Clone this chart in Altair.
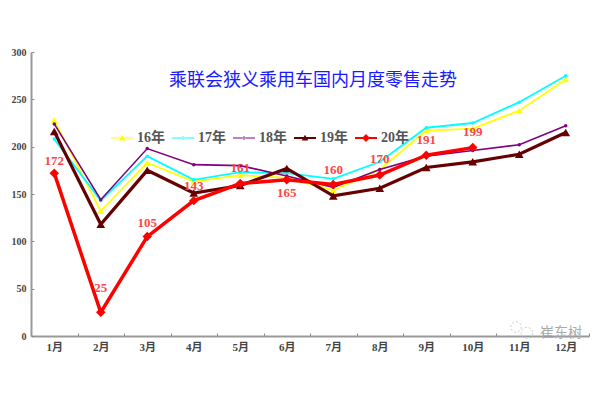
import altair as alt
import pandas as pd

months = ["1月", "2月", "3月", "4月", "5月", "6月", "7月", "8月", "9月", "10月", "11月", "12月"]
s16 = [228, 132, 183, 163, 170, 167, 154, 176, 217, 219, 238, 271]
s17 = [208, 143, 190, 165, 173, 172, 166, 184, 220, 225, 247, 275]
s18 = [224, 144, 198, 181, 180, 169, 157, 176, 190, 196, 202, 222]
s19 = [216, 118, 175, 151, 159, 177, 148, 156, 178, 184, 192, 215]
s20 = [172, 25, 105, 143, 161, 165, 160, 170, 191, 199]
years = ["16年", "17年", "18年", "19年", "20年"]
colors = ["#ffff00", "#00ffff", "#800080", "#660000", "#ff0000"]
widths = [1.8, 1.8, 1.6, 3.2, 3.5]
shapes = ["triangle-up", "circle", "circle", "triangle-up", "diamond"]
sizes = [45, 12, 12, 75, 90]
label_dy = [-12, -24, -14, -15, -16, 13, -15, -16, -15, -16]
FONT = "Liberation Serif, Noto Sans CJK SC"

# legend keys: a filled bar plus a marker, in the unit square of a custom symbol
legend_paths = [
    "M-1,-0.04H1V0.04H-1Z M0,-0.3L0.3,0.22H-0.3Z",
    "M-1,-0.04H1V0.04H-1Z M-0.14,0a0.14,0.14 0 1,0 0.28,0a0.14,0.14 0 1,0 -0.28,0Z",
    "M-1,-0.04H1V0.04H-1Z M-0.14,0a0.14,0.14 0 1,0 0.28,0a0.14,0.14 0 1,0 -0.28,0Z",
    "M-1,-0.08H1V0.08H-1Z M0,-0.3L0.3,0.22H-0.3Z",
    "M-1,-0.08H1V0.08H-1Z M0,-0.36L0.36,0L0,0.36L-0.36,0Z",
]

rows = []
for yr, vals in zip(years, [s16, s17, s18, s19, s20]):
    for m, v in zip(months, vals):
        rows.append({"month": m, "value": v, "year": yr})
df = pd.DataFrame(rows)

x = alt.X("month:N", sort=months, title=None,
          scale=alt.Scale(type="band", domain=months, paddingInner=0, paddingOuter=0),
          axis=alt.Axis(labelAngle=0, labelFont=FONT, labelFontSize=11, labelFontWeight="bold",
                        labelColor="#444444", domainColor="#999999", domainWidth=2,
                        tickColor="#888888", tickWidth=1, tickBand="extent",
                        tickSize=alt.ExprRef(expr="-3"), labelPadding=8, grid=False))
y = alt.Y("value:Q", title=None, scale=alt.Scale(domain=[0, 300], nice=False),
          axis=alt.Axis(values=[0, 50, 100, 150, 200, 250, 300], labelFont=FONT, labelFontSize=10,
                        labelFontWeight="bold", labelColor="#444444", domainColor="#999999",
                        domainWidth=2, tickColor="#888888", tickWidth=1,
                        tickSize=alt.ExprRef(expr="-3"), labelPadding=8, grid=False))

layers = []
for yr, c, w, sh, sz in zip(years, colors, widths, shapes, sizes):
    d = df[df.year == yr]
    layers.append(alt.Chart(d).mark_line(color=c, strokeWidth=w).encode(x=x, y=y))
    layers.append(alt.Chart(d).mark_point(shape=sh, size=sz, filled=True, color=c, opacity=1).encode(x=x, y=y))

# data labels above/below the 2020 points
d20 = df[df.year == "20年"].reset_index(drop=True)
for i, dy in enumerate(label_dy):
    layers.append(alt.Chart(d20.iloc[[i]]).mark_text(font=FONT, fontSize=13, fontWeight="bold",
                                                     color="#ff4444", dy=dy)
                  .encode(x=x, y=y, text="value:Q"))

legend_cfg = dict(title=None, orient="none", legendX=80, legendY=75,
                  direction="horizontal", columns=5, symbolSize=484,
                  symbolStrokeWidth=0, labelFont=FONT, labelFontSize=14, labelFontWeight="bold",
                  labelColor="#555555", labelOffset=4, columnPadding=7,
                  symbolOpacity=1, labelLimit=60)
legend_layer = alt.Chart(df).transform_filter("false").mark_point(filled=True, opacity=1).encode(
    x=x, y=y,
    color=alt.Color("year:N", scale=alt.Scale(domain=years, range=colors), legend=alt.Legend(**legend_cfg)),
    shape=alt.Shape("year:N", scale=alt.Scale(domain=years, range=legend_paths), legend=alt.Legend(**legend_cfg)),
)
layers.append(legend_layer)

# watermark
wm = pd.DataFrame({"t": ["崔东树"]})
layers.append(alt.Chart(wm).mark_text(font="Noto Sans CJK SC", fontSize=14, color="#aaaaaa", align="center")
              .encode(x=alt.value(530), y=alt.value(281), text="t:N"))
for px, py, s in [(485, 275, 110), (496, 281, 130)]:
    layers.append(alt.Chart(wm).mark_point(shape="circle", size=s, color="#bbbbbb", strokeDash=[2, 2], strokeWidth=1)
                  .encode(x=alt.value(px), y=alt.value(py)))

chart = alt.layer(*layers).properties(
    width=558, height=284,
    title=alt.TitleParams("乘联会狭义乘用车国内月度零售走势", font="Noto Sans CJK SC", fontSize=18,
                          fontWeight="normal", color="#1a1aff", anchor="middle", offset=-43, dx=3),
    autosize=alt.AutoSizeParams(type="none"),
    padding={"left": 23, "top": 44, "right": 3, "bottom": 40},
    background="white",
).configure_view(stroke=None)

chart.save("out.html", embed_options={"renderer": "svg", "actions": False})
